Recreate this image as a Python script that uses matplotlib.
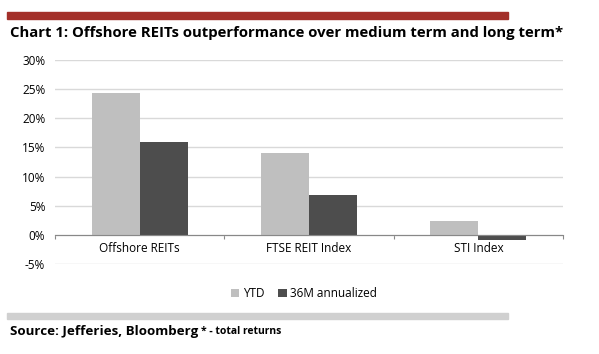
import numpy as np
import matplotlib.pyplot as plt
from matplotlib.patches import Rectangle

categories = ["Offshore REITs", "FTSE REIT Index", "STI Index"]
ytd = [24.3, 14.1, 2.3]
annualized_36m = [15.9, 6.9, -0.8]
series_names = ["YTD", "36M annualized"]
yticks = [-5, 0, 5, 10, 15, 20, 25, 30]

plt.rcParams['font.family'] = ['Open Sans', 'DejaVu Sans']

fig = plt.figure(figsize=(5.99, 3.54), dpi=100)
W, H = 599, 354

# header and footer bands
fig.patches.append(Rectangle((7 / W, 1 - 19 / H), 501 / W, 7 / H,
                             transform=fig.transFigure, color='#A3302A'))
fig.patches.append(Rectangle((7 / W, 1 - 319 / H), 501 / W, 6 / H,
                             transform=fig.transFigure, color='#D0D0D0'))
fig.text(10 / W, 1 - 33 / H,
         "Chart 1: Offshore REITs outperformance over medium term and long term*",
         fontsize=10.7, fontweight='bold', va='center', ha='left')
src = fig.text(10 / W, 1 - 331 / H, "Source: Jefferies, Bloomberg", fontsize=9.6,
               fontweight='bold', va='center', ha='left')
# footnote sits right after the source text
fig.add_artist(plt.Annotation("* - total returns", xy=(1, 0.5), xycoords=src,
                              xytext=(2, 0), textcoords='offset points',
                              fontsize=7.5, fontweight='bold', va='center', ha='left'))

ax = fig.add_axes([55 / W, 1 - 264 / H, 508 / W, 204 / H])
x = np.arange(len(categories))
bw = 0.284
ax.bar(x - bw / 2, ytd, bw, color='#BFBFBF', label=series_names[0], zorder=2)
ax.bar(x + bw / 2, annualized_36m, bw, color='#4D4D4D', label=series_names[1], zorder=2)

ax.set_xlim(-0.5, len(categories) - 0.5)
ax.set_ylim(-5, 30)
ax.set_yticks(yticks)
ax.set_yticklabels([f"{v}%" for v in yticks], fontsize=8.5)
ax.yaxis.grid(True, color='#D9D9D9', linewidth=1, zorder=0)
ax.tick_params(axis='y', length=0, pad=7)
for s in ['top', 'right', 'left']:
    ax.spines[s].set_visible(False)
ax.spines['bottom'].set_position(('data', 0))
ax.spines['bottom'].set_color('#888888')
ax.set_xticks(np.arange(len(categories) + 1) - 0.5)
ax.set_xticklabels([])
ax.tick_params(axis='x', length=3, color='#888888', direction='out')
for i, c in enumerate(categories):
    ax.text(i, -1.3, c, ha='center', va='top', fontsize=8.5)

ax.legend(loc='upper center', bbox_to_anchor=(0.49, -0.06), ncol=2, frameon=False,
          fontsize=8.5, handlelength=0.7, handleheight=0.7, handletextpad=0.3,
          columnspacing=1.2)

fig.savefig("out.png", dpi=100)
